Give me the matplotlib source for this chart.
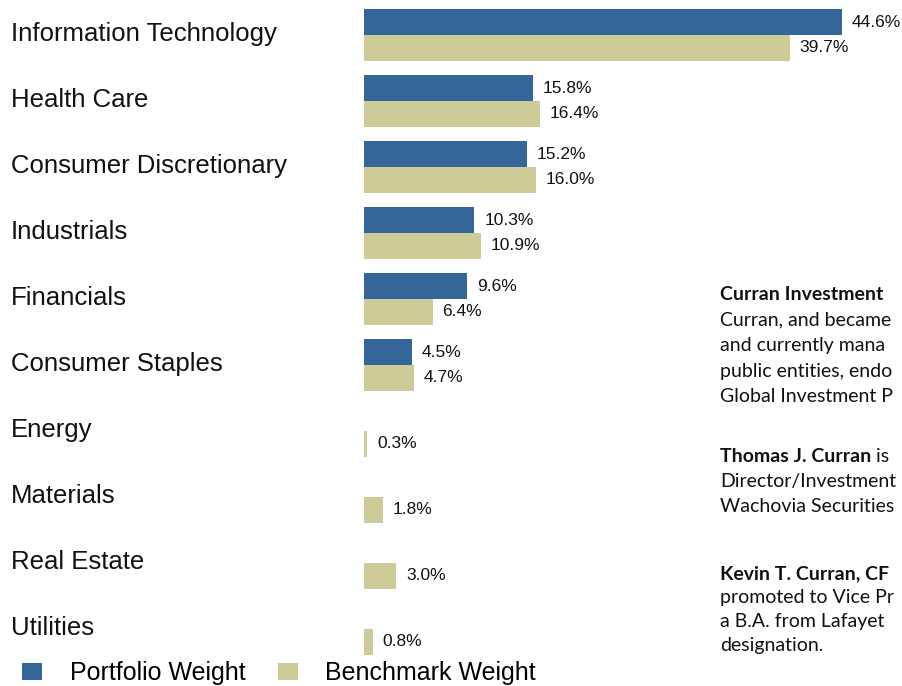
import matplotlib.pyplot as plt
import matplotlib.transforms as mtransforms
import numpy as np
from matplotlib.patches import Patch

sectors = [
    "Information Technology", "Health Care", "Consumer Discretionary",
    "Industrials", "Financials", "Consumer Staples", "Energy",
    "Materials", "Real Estate", "Utilities",
]
portfolio = [44.6, 15.8, 15.2, 10.3, 9.6, 4.5, 0.0, 0.0, 0.0, 0.0]
benchmark = [39.7, 16.4, 16.0, 10.9, 6.4, 4.7, 0.3, 1.8, 3.0, 0.8]

# right-hand text block: only the part visible before the page edge
bio_lines = [
    [("Curran Investment", "bold")],
    [("Curran, and became", "normal")],
    [("and currently mana", "normal")],
    [("public entities, endo", "normal")],
    [("Global Investment P", "normal")],
    None,
    [("Thomas J. Curran", "bold"), (" is", "normal")],
    [("Director/Investment", "normal")],
    [("Wachovia Securities", "normal")],
    None,
    [("Kevin T. Curran, CF", "bold")],
    [("promoted to Vice Pr", "normal")],
    [("a B.A. from Lafayet", "normal")],
    [("designation.", "normal")],
]

C_PORT = "#346699"
C_BENCH = "#CDCC99"
W, H = 903, 686

fig = plt.figure(figsize=(W / 100, H / 100), dpi=100)
fig.patch.set_facecolor("white")
plt.rcParams["font.family"] = ["Liberation Sans", "DejaVu Sans"]

px_per_pct = 10.72
ax = fig.add_axes([364 / W, 0, (W - 364) / W, 1])
ax.set_xlim(0, (W - 364) / px_per_pct)
ax.set_ylim((H - 35) / 66, -35 / 66)
ax.axis("off")

y = np.arange(len(sectors))
bh = 0.39
port = np.array(portfolio)
bench = np.array(benchmark)
ax.barh(y - bh / 2, np.where(port > 0, port, np.nan), height=bh, color=C_PORT)
ax.barh(y + bh / 2, bench, height=bh, color=C_BENCH)

for i, (p, b) in enumerate(zip(portfolio, benchmark)):
    if p > 0:
        ax.annotate(f"{p:.1f}%", (p, i - bh / 2), xytext=(7, 0),
                    textcoords="offset points", va="center", ha="left",
                    fontsize=12.5, color="#111111")
    ax.annotate(f"{b:.1f}%", (b, i + bh / 2), xytext=(7, 0),
                textcoords="offset points", va="center", ha="left",
                fontsize=12.5, color="#111111")

trans = mtransforms.blended_transform_factory(fig.transFigure, ax.transData)
for i, name in enumerate(sectors):
    ax.text(11 / W, i - 0.015, name, transform=trans, ha="left", va="center",
            fontsize=18.5, color="#111111")

handles = [Patch(facecolor=C_PORT, label="Portfolio Weight"),
           Patch(facecolor=C_BENCH, label="Benchmark Weight")]
fig.legend(handles=handles, loc="center left", bbox_to_anchor=(22 / W, 1 - 673 / H),
           ncol=2, frameon=False, fontsize=18, handlelength=0.8, handleheight=0.68,
           handletextpad=1.1, columnspacing=1.3, borderpad=0, borderaxespad=0)

line_y = [294, 320, 346, 372, 397, None, 456, 481, 506, None, 574, 598, 622, 646]
for parts, yy in zip(bio_lines, line_y):
    if parts is None:
        continue
    prev = None
    for txt, wt in parts:
        if prev is None:
            prev = fig.text(720 / W, 1 - yy / H, txt, ha="left", va="center",
                            fontsize=14, fontweight=wt, family="Lato",
                            color="#111111")
        else:
            prev = ax.annotate(txt, xy=(1, 0), xycoords=prev, ha="left",
                               va="bottom", fontsize=14, fontweight=wt,
                               family="Lato", color="#111111",
                               annotation_clip=False)

fig.savefig("out.png", dpi=100, facecolor="white")
